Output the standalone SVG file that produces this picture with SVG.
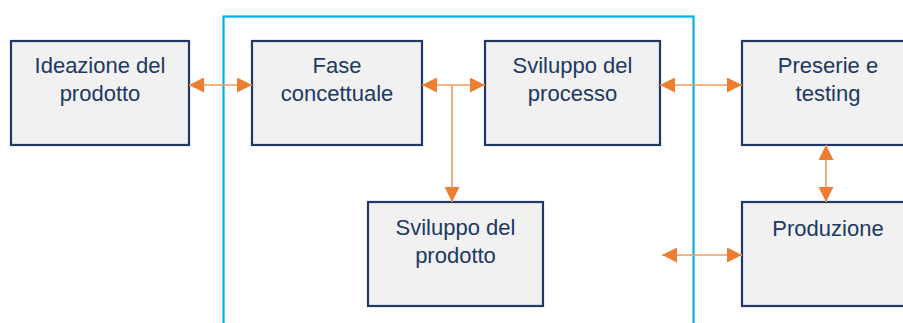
<svg xmlns="http://www.w3.org/2000/svg" width="903" height="323" viewBox="0 0 903 323">
  <style>
    .box { fill: #f1f1f1; stroke: #203864; stroke-width: 2.2; }
    .lbl { font-family: "Liberation Sans", Arial, sans-serif; font-size: 22px; fill: #203864; text-anchor: middle; }
    .link { fill: none; stroke: #f19a5c; stroke-width: 1.6; }
    .frame { fill: none; stroke: #00b0f0; stroke-width: 2.2; }
  </style>
  <defs>
    <marker id="head" viewBox="0 0 15 15" refX="15" refY="7.5" markerWidth="15" markerHeight="15" markerUnits="userSpaceOnUse" orient="auto-start-reverse">
      <path d="M0,0 L15,7.5 L0,15 z" fill="#ed7d31"/>
    </marker>
  </defs>
  <rect width="903" height="323" fill="#ffffff"/>

  <!-- development stage frame -->
  <rect class="frame" x="223.5" y="16.5" width="470" height="330"/>

  <g id="ideazione">
    <rect class="box" x="11" y="41" width="178" height="104"/>
    <text class="lbl" x="100" y="73">Ideazione del</text>
    <text class="lbl" x="100" y="101">prodotto</text>
  </g>
  <g id="fase-concettuale">
    <rect class="box" x="252" y="41" width="170" height="104"/>
    <text class="lbl" x="337" y="73">Fase</text>
    <text class="lbl" x="337" y="101">concettuale</text>
  </g>
  <g id="sviluppo-processo">
    <rect class="box" x="485" y="41" width="175" height="104"/>
    <text class="lbl" x="572.5" y="73">Sviluppo del</text>
    <text class="lbl" x="572.5" y="101">processo</text>
  </g>
  <g id="preserie">
    <rect class="box" x="742" y="41" width="172" height="104"/>
    <text class="lbl" x="828" y="73">Preserie e</text>
    <text class="lbl" x="828" y="101">testing</text>
  </g>
  <g id="sviluppo-prodotto">
    <rect class="box" x="368" y="202" width="175" height="104"/>
    <text class="lbl" x="455.5" y="235">Sviluppo del</text>
    <text class="lbl" x="455.5" y="263">prodotto</text>
  </g>
  <g id="produzione">
    <rect class="box" x="742" y="202" width="172" height="104"/>
    <text class="lbl" x="828" y="236">Produzione</text>
  </g>

  <g id="connectors">
    <path class="link" d="M189,85 H252" marker-start="url(#head)" marker-end="url(#head)"/>
    <path class="link" d="M422,85 H485" marker-start="url(#head)" marker-end="url(#head)"/>
    <path class="link" d="M452,85 V202" marker-end="url(#head)"/>
    <path class="link" d="M660,85 H742" marker-start="url(#head)" marker-end="url(#head)"/>
    <path class="link" d="M826,145 V202" marker-start="url(#head)" marker-end="url(#head)"/>
    <path class="link" d="M662,255 H742" marker-start="url(#head)" marker-end="url(#head)"/>
  </g>
</svg>
